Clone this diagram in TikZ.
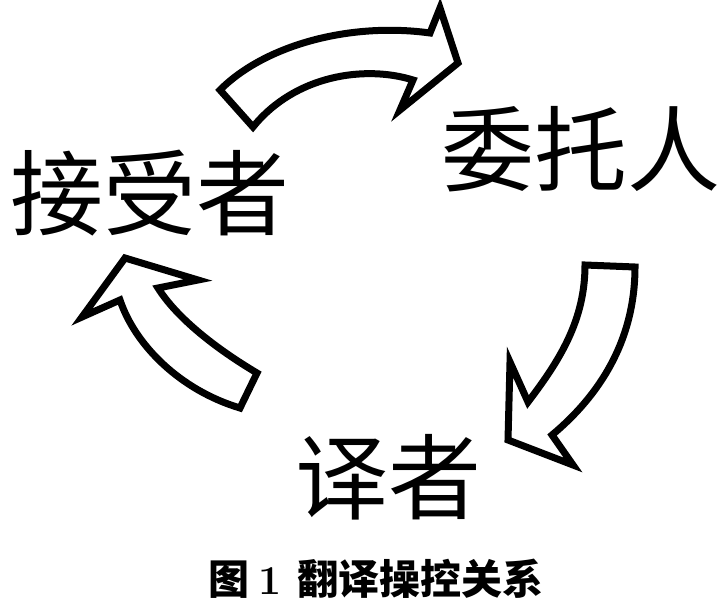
\documentclass[tikz,border=0pt]{standalone}
\usepackage{fontspec}
\newfontfamily\cjk{Noto Sans CJK SC}

\begin{document}
\begin{tikzpicture}[x=1pt, y=-1pt,
  blockarrow/.style={draw=black, fill=white, line width=7pt, line join=miter, miter limit=10},
  role/.style={font=\cjk\fontsize{93}{93}\selectfont, inner sep=0pt, anchor=base},
  figcaption/.style={font=\fontsize{41}{41}\selectfont\bfseries, inner sep=0pt, anchor=base}]
\useasboundingbox (0,0) rectangle (719,601);

% Top arrow
\draw[blockarrow] (413,80) .. controls (365,65) and (295,75) .. (253,127) -- (220,90) .. controls (265,45) and (350,22) .. (430,33) -- (440,8) -- (458,63) -- (400,110) -- cycle;

% Right arrow
\draw[blockarrow] (528,402) .. controls (560,360) and (585,320) .. (585,265) -- (635,267) .. controls (635,340) and (600,395) .. (552,435) -- (573,465) -- (508,440) -- (510,362) -- cycle;

% Left arrow
\draw[blockarrow] (120,300) .. controls (135,345) and (180,390) .. (240,408) -- (257,373) .. controls (210,345) and (175,315) .. (158,288) -- (198,280) -- (125,258) -- (82,317) -- cycle;

% Roles
\node[role] (receiver) at (150,229) {接受者};
\node[role] (client) at (581,185) {委托人};
\node[role] (translator) at (388,512) {译者};

% Caption below
\node[figcaption] (title) at (376,594) {{\cjk 图}\hspace{9pt}1\hspace{15pt}{\cjk 翻译操控关系}};
\end{tikzpicture}
\end{document}
